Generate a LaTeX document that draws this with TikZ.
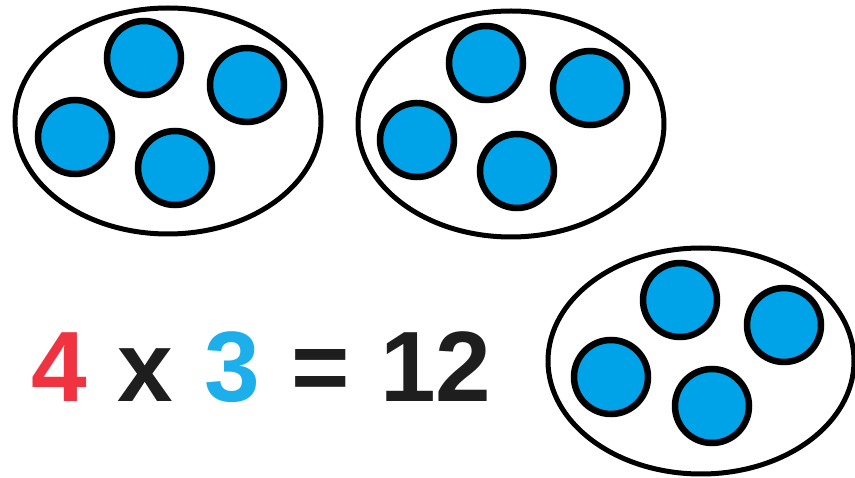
\documentclass[tikz,border=0pt]{standalone}
\usepackage{fontspec}
\setmainfont{Liberation Sans}
\usepackage{xcolor}
\definecolor{DotBlue}  {RGB}{0,  162, 232}
\definecolor{NumRed}   {RGB}{239, 51,  64}
\definecolor{NumBlue}  {RGB}{29,  174, 236}
\definecolor{InkBlack} {RGB}{30,  30,  30}
\usetikzlibrary{shapes.geometric}

\begin{document}
\begin{tikzpicture}[
  x=1pt, y=-1pt,
  group/.style={
    draw, ellipse,
    line width=5pt,
    minimum width=306pt,
    minimum height=226pt,
    inner sep=0pt},
  dot/.style={
    draw, circle,
    fill=DotBlue,
    line width=6.5pt,
    minimum size=74pt,
    inner sep=0pt},
  sum/.style={
    font=\fontsize{100}{100}\selectfont\bfseries,
    text=InkBlack, inner sep=0pt,
    anchor=base west}
]
\useasboundingbox (0,0) rectangle (855,478);

% first group
\node[group] (groupA) at (168,121) {};
\node[dot] (dotA1) at (144,58) {};
\node[dot] (dotA2) at (247,85) {};
\node[dot] (dotA3) at (75,137) {};
\node[dot] (dotA4) at (175,168) {};

% second group
\node[group] (groupB) at (511,124) {};
\node[dot] (dotB1) at (486,63) {};
\node[dot] (dotB2) at (590,88) {};
\node[dot] (dotB3) at (417,140) {};
\node[dot] (dotB4) at (517,171) {};

% third group
\node[group] (groupC) at (701,361) {};
\node[dot] (dotC1) at (680,300) {};
\node[dot] (dotC2) at (784,325) {};
\node[dot] (dotC3) at (611,377) {};
\node[dot] (dotC4) at (712,406) {};

\node[sum] (product) at (31,402)
  {\spaceskip=31pt\relax
  \textcolor{NumRed}{4} x \textcolor{NumBlue}{3} = 12};

\end{tikzpicture}
\end{document}
